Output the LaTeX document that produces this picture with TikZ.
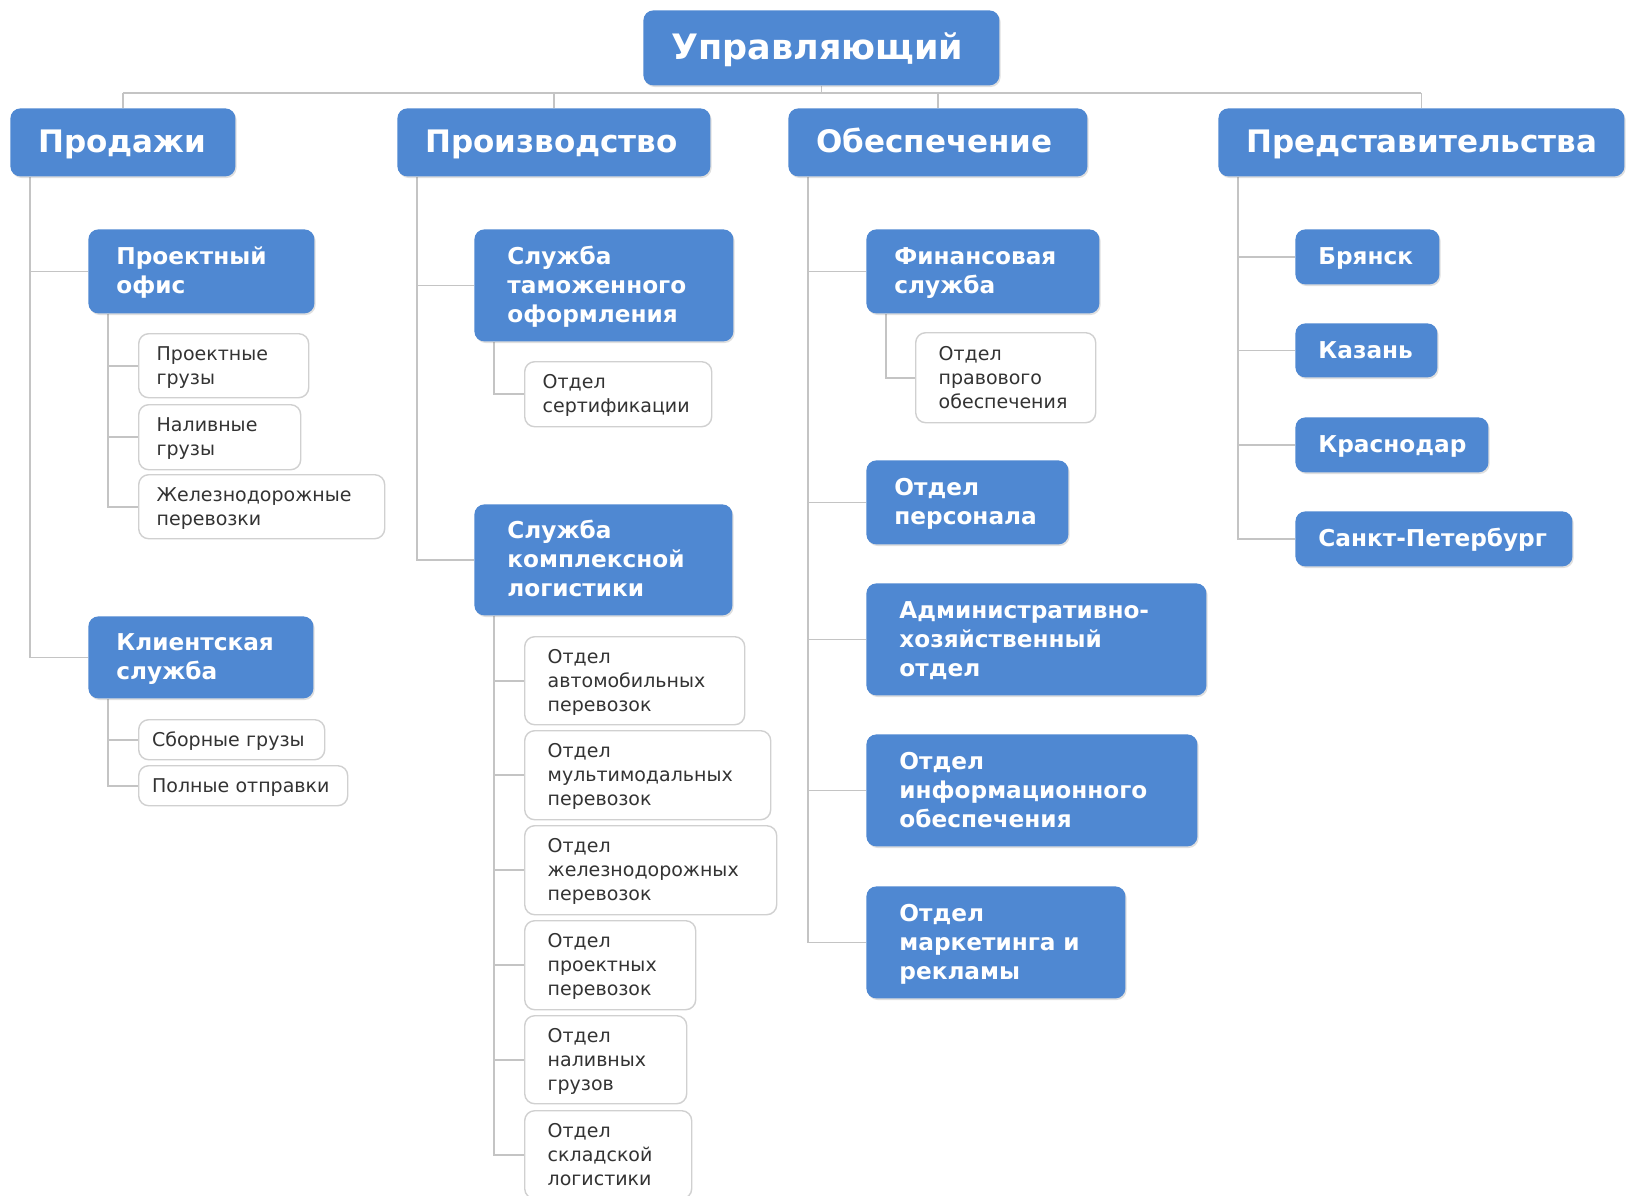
\documentclass[tikz,border=0pt]{standalone}
\usepackage{fontspec}
\setmainfont{DejaVu Sans}
\usetikzlibrary{shadows,backgrounds}
\definecolor{BoxBlue}{HTML}{4F88D2}
\definecolor{LinkGray}{HTML}{C4C4C4}
\definecolor{EdgeGray}{HTML}{D0D0D0}
\definecolor{LeafText}{HTML}{333333}
\hyphenpenalty=10000
\exhyphenpenalty=10000
\hfuzz=60pt
\hbadness=10000
\newcommand{\fTop}{\fontsize{17.5}{21}\selectfont\bfseries}
\newcommand{\fHead}{\fontsize{15.5}{19}\selectfont\bfseries}
\newcommand{\fUnit}{\fontsize{11.6}{14.5}\selectfont\bfseries}
\newcommand{\fLeaf}{\fontsize{9.5}{12}\selectfont}
\newcommand{\capstrut}{\rule[-0.27em]{0pt}{1.22em}}
\tikzset{
  basebox/.style={anchor=north west, align=left, inner ysep=0pt,
    execute at begin node=\capstrut, execute at end node=\capstrut},
  bluebox/.style 2 args={basebox, fill=BoxBlue, text=white,
    rounded corners=5pt, inner xsep=14pt,
    text width=#1pt, minimum height=#2pt,
    drop shadow={shadow xshift=0.6pt, shadow yshift=-0.8pt, opacity=0.25}},
  whitebox/.style 2 args={basebox, draw=EdgeGray, line width=0.7pt,
    fill=white, text=LeafText, rounded corners=5pt, inner xsep=9pt,
    text width=#1pt, minimum height=#2pt, font=\fLeaf},
  link/.style={draw=LinkGray, line width=0.9pt},
}
\begin{document}
\begin{tikzpicture}[x=0.5pt,y=-0.5pt]
  \useasboundingbox (0,0) rectangle (1626,1195);

  % top level
  \node[bluebox={150}{37.5}, font=\fTop] (boss) at (643,10) {Управляющий};
  \node[bluebox={84.5}{34}, font=\fHead] (sales) at (10,108) {Продажи};
  \node[bluebox={128.5}{34}, font=\fHead] (prod) at (397,108) {Производство};
  \node[bluebox={121.5}{34}, font=\fHead] (supp) at (788,108) {Обеспечение};
  \node[bluebox={175}{34}, font=\fHead] (rep) at (1218,108) {Представительства};

  % sales
  \node[bluebox={85}{42}, font=\fUnit] (projoff) at (88,229) {Проектный\\офис};
  \node[whitebox={67}{32}] (pc1) at (138,333) {Проектные\\грузы};
  \node[whitebox={63}{32.5}] (pc2) at (138,404) {Наливные\\грузы};
  \node[whitebox={105}{32}] (pc3) at (138,474) {Железнодорожные\\перевозки};
  \node[bluebox={84.5}{41}, font=\fUnit] (client) at (88,616) {Клиентская\\служба};
  \node[whitebox={79.6}{20}, inner xsep=6.7pt] (cc1) at (138,719) {\mbox{Сборные грузы}};
  \node[whitebox={91.1}{20}, inner xsep=6.7pt] (cc2) at (138,765) {\mbox{Полные отправки}};

  % production
  \node[bluebox={96.5}{56}, font=\fUnit, inner xsep=16.5pt] (customs) at (474,229) {Служба\\таможенного\\оформления};
  \node[whitebox={75.5}{32.5}] (cs1) at (524,361) {Отдел\\сертификации};
  \node[bluebox={96}{55.5}, font=\fUnit, inner xsep=16.5pt] (logist) at (474,504) {Служба\\комплексной\\логистики};
  \node[whitebox={87}{44}, inner xsep=11.5pt] (lg1) at (524,636) {Отдел\\автомобильных\\перевозок};
  \node[whitebox={100}{44.5}, inner xsep=11.5pt] (lg2) at (524,730) {Отдел\\мультимодальных\\перевозок};
  \node[whitebox={103}{44.5}, inner xsep=11.5pt] (lg3) at (524,825) {Отдел\\железнодорожных\\перевозок};
  \node[whitebox={62.5}{44.5}, inner xsep=11.5pt] (lg4) at (524,920) {Отдел\\проектных\\перевозок};
  \node[whitebox={58}{44}, inner xsep=11.5pt] (lg5) at (524,1015) {Отдел\\наливных\\грузов};
  \node[whitebox={60.5}{44}, inner xsep=11.5pt] (lg6) at (524,1110) {Отдел\\складской\\логистики};

  % support
  \node[bluebox={88.5}{42}, font=\fUnit] (fin) at (866,229) {Финансовая\\служба};
  \node[whitebox={67}{45}, inner xsep=11.5pt] (fc1) at (915,332) {Отдел\\правового\\обеспечения};
  \node[bluebox={73}{42}, font=\fUnit] (staff) at (866,460) {Отдел\\персонала};
  \node[bluebox={137}{56}, font=\fUnit, inner xsep=16.5pt] (admin) at (866,583) {Административно-\\хозяйственный\\отдел};
  \node[bluebox={132.5}{56}, font=\fUnit, inner xsep=16.5pt] (itdep) at (866,734) {Отдел\\информационного\\обеспечения};
  \node[bluebox={96.5}{56}, font=\fUnit, inner xsep=16.5pt] (mkt) at (866,886) {Отдел\\маркетинга и\\рекламы};

  % branches
  \node[bluebox={49}{27.5}, font=\fUnit, inner xsep=11.5pt] (bryansk) at (1295,229) {Брянск};
  \node[bluebox={48}{27}, font=\fUnit, inner xsep=11.5pt] (kazan) at (1295,323) {Казань};
  \node[bluebox={73.5}{27.5}, font=\fUnit, inner xsep=11.5pt] (krasnodar) at (1295,417) {Краснодар};
  \node[bluebox={115.5}{27.5}, font=\fUnit, inner xsep=11.5pt] (spb) at (1295,511) {\mbox{Санкт-Петербург}};

  \begin{scope}[on background layer]
    \fill[white] (0,0) rectangle (1626,1195);
    \coordinate (bus) at (0,93);
    \draw[link, line width=1.3pt] (sales.north |- bus) -- (rep.north |- bus);
    \draw[link] (boss.south) -- (boss.south |- bus);
    \foreach \d in {sales,prod,supp,rep}
      \draw[link] (\d.north) -- (\d.north |- bus);
    \foreach \p/\c in {sales/projoff, sales/client,
        projoff/pc1, projoff/pc2, projoff/pc3, client/cc1, client/cc2,
        prod/customs, prod/logist, customs/cs1,
        logist/lg1, logist/lg2, logist/lg3, logist/lg4, logist/lg5, logist/lg6,
        supp/fin, supp/staff, supp/admin, supp/itdep, supp/mkt, fin/fc1,
        rep/bryansk, rep/kazan, rep/krasnodar, rep/spb}
      \draw[link] ([xshift=10pt]\p.south west) |- (\c.west);
  \end{scope}
\end{tikzpicture}
\end{document}
